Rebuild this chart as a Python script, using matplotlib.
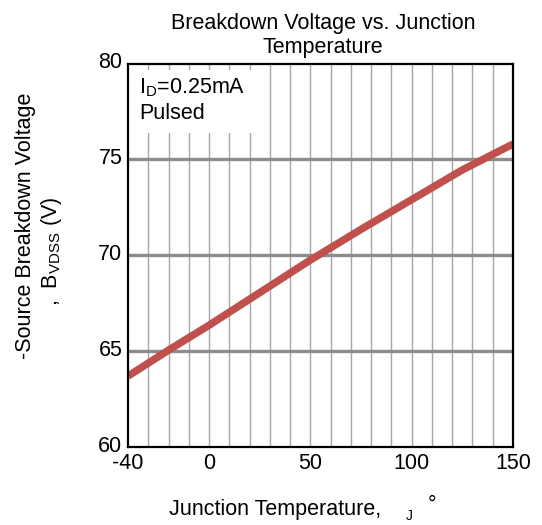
import matplotlib
matplotlib.use("Agg")
import matplotlib.pyplot as plt
import matplotlib.transforms as mtransforms
import numpy as np

plt.rcParams['font.family'] = ['Liberation Sans', 'DejaVu Sans']
plt.rcParams['mathtext.fontset'] = 'custom'
plt.rcParams['mathtext.rm'] = 'Liberation Sans'
plt.rcParams['mathtext.it'] = 'Liberation Sans'
plt.rcParams['mathtext.bf'] = 'Liberation Sans'

temperature = [-40, -20, 0, 25, 50, 75, 100, 125, 150]
voltage = [63.7, 65.05, 66.35, 68.05, 69.75, 71.35, 72.9, 74.45, 75.8]
x_ticks = [-40, 0, 50, 100, 150]
y_ticks = [60, 65, 70, 75, 80]

FS = 15.5

fig = plt.figure(figsize=(5.42, 5.25), dpi=100)
ax = fig.add_axes([128/542, 1-447/525, 385/542, 383.5/525])

ax.set_xlim(-40, 150)
ax.set_ylim(60, 80)

for xv in np.arange(-30, 150, 10):
    ax.axvline(xv, color='#a6a6a6', lw=1.0, zorder=1)
for yv in [65, 70, 75]:
    ax.axhline(yv, color='#8c8c8c', lw=2.4, zorder=2)

# white box behind annotation
ax.fill_between([-40, 25.5], 76.35, 79.65, color='white', zorder=3, lw=0)

ax.plot(temperature, voltage, color='#c0504d', lw=5.4, zorder=4, solid_capstyle='butt')

ax.text(-34.5, 78.75, r'I$_{\mathrm{D}}$=0.25mA', fontsize=FS, zorder=5, va='center')
ax.text(-34.5, 77.4, 'Pulsed', fontsize=FS, zorder=5, va='center')

ax.set_xticks(x_ticks)
ax.set_yticks(y_ticks)
ax.set_xticklabels([str(v) for v in x_ticks])
ax.set_yticklabels([str(v) for v in y_ticks])
ax.tick_params(length=0, labelsize=FS)
ax.tick_params(axis='x', pad=4)
ax.tick_params(axis='y', pad=4)
shift = mtransforms.ScaledTranslation(0, 3/100, fig.dpi_scale_trans)
for lab in ax.get_yticklabels():
    lab.set_transform(lab.get_transform() + shift)
for s in ax.spines.values():
    s.set_linewidth(1.6)
    s.set_color('black')
    s.set_zorder(6)

fig.text(323/542, 1-23/525, 'Breakdown Voltage vs. Junction', fontsize=FS,
         ha='center', va='center')
fig.text(323/542, 1-48/525, 'Temperature', fontsize=FS, ha='center', va='center')

fig.text(26/542, 1-226/525, '-Source Breakdown Voltage', fontsize=FS,
         rotation=90, ha='center', va='center')
fig.text(52/542, 1-251/525, r',  B$_{\mathrm{VDSS}}$ (V)', fontsize=FS,
         rotation=90, ha='center', va='center')

fig.text(169/542, 1-510/525, 'Junction Temperature,', fontsize=FS, ha='left', va='center')
fig.text(409/542, 1-516/525, 'J', fontsize=10, ha='center', va='center')
fig.text(432/542, 1-505/525, '°', fontsize=FS, ha='center', va='center')

fig.savefig('out.png', dpi=100)
